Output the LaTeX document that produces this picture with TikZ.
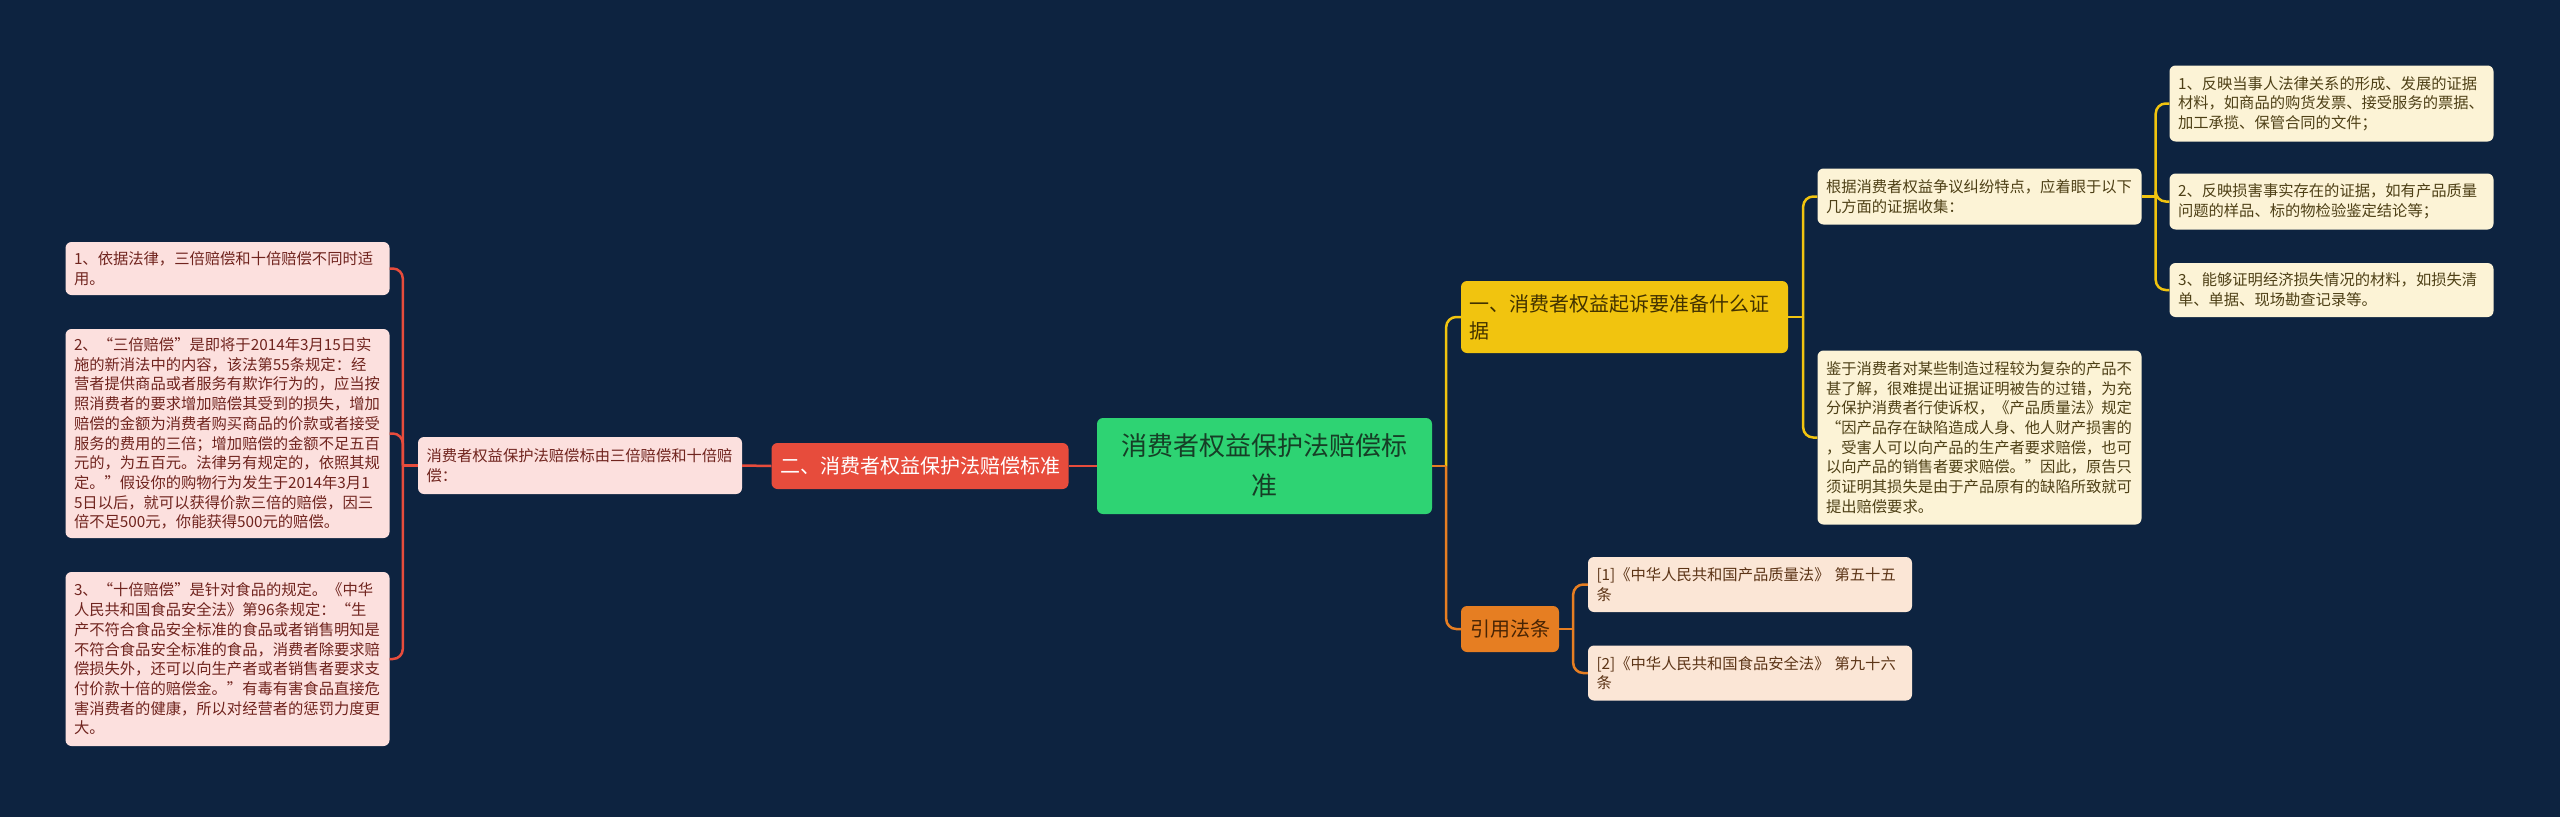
\documentclass[tikz,border=0pt]{standalone}
\usepackage{fontspec}
\setmainfont{Noto Sans CJK SC}
\usetikzlibrary{calc}
\definecolor{bgc}{RGB}{13,35,64}
\definecolor{greenc}{RGB}{46,211,115}
\definecolor{greentx}{RGB}{22,62,38}
\definecolor{redc}{RGB}{231,76,60}
\definecolor{pinkc}{RGB}{252,224,222}
\definecolor{pinktx}{RGB}{112,36,30}
\definecolor{yelc}{RGB}{241,196,15}
\definecolor{yeltx}{RGB}{66,50,0}
\definecolor{lyelc}{RGB}{252,243,214}
\definecolor{lyeltx}{RGB}{78,64,22}
\definecolor{orac}{RGB}{230,126,34}
\definecolor{oratx}{RGB}{72,36,4}
\definecolor{citec}{RGB}{251,230,214}
\definecolor{citetx}{RGB}{92,52,22}
\tikzset{
  box/.style={rounded corners=6pt, inner xsep=8.5pt, inner ysep=0pt, anchor=center},
  pinkleaf/.style={box, fill=pinkc, text=pinktx, align=left, text width=307pt,
     font=\fontsize{15.3}{19.7}\selectfont},
  yleaf/.style={box, fill=lyelc, text=lyeltx, align=left, text width=307pt,
     font=\fontsize{15.3}{19.7}\selectfont},
  cleaf/.style={box, fill=citec, text=citetx, align=left, text width=307pt,
     font=\fontsize{15.3}{19.7}\selectfont},
  redline/.style={draw=redc, line width=2.5pt},
  yline/.style={draw=yelc, line width=2.5pt},
  oline/.style={draw=orac, line width=2.5pt},
  elbow/.style={rounded corners=10pt}
}
\begin{document}
\begin{tikzpicture}[x=1pt,y=-1pt]
\fill[bgc] (0,0) rectangle (2560,817);
\useasboundingbox (0,0) rectangle (2560,817);

% center
\node[box, fill=greenc, text=greentx, align=center, minimum width=335pt, minimum height=96pt,
  font=\fontsize{26}{40}\selectfont] (C) at (1264.5,466) {消费者权益保护法赔偿标\\准};

% left branch
\node[box, fill=redc, text=white, align=center, minimum width=296pt, minimum height=46pt,
  font=\fontsize{20}{27}\selectfont] (R) at (920,466) {二、消费者权益保护法赔偿标准};
\node[pinkleaf, minimum height=57pt] (P) at (580,465.5)
  {消费者权益保护法赔偿标由三倍赔偿和十倍赔\\偿：};
\node[pinkleaf, minimum height=53pt] (L1) at (227.5,268.5)
  {1、依据法律，三倍赔偿和十倍赔偿不同时适\\用。};
\node[pinkleaf, minimum height=209pt] (L2) at (227.5,433.5)
  {2、“三倍赔偿”是即将于2014年3月15日实\\
   施的新消法中的内容，该法第55条规定：经\\
   营者提供商品或者服务有欺诈行为的，应当按\\
   照消费者的要求增加赔偿其受到的损失，增加\\
   赔偿的金额为消费者购买商品的价款或者接受\\
   服务的费用的三倍；增加赔偿的金额不足五百\\
   元的，为五百元。法律另有规定的，依照其规\\
   定。”假设你的购物行为发生于2014年3月1\\
   5日以后，就可以获得价款三倍的赔偿，因三\\
   倍不足500元，你能获得500元的赔偿。};
\node[pinkleaf, minimum height=174pt] (L3) at (227.5,659)
  {3、“十倍赔偿”是针对食品的规定。《中华\\
   人民共和国食品安全法》第96条规定：“生\\
   产不符合食品安全标准的食品或者销售明知是\\
   不符合食品安全标准的食品，消费者除要求赔\\
   偿损失外，还可以向生产者或者销售者要求支\\
   付价款十倍的赔偿金。”有毒有害食品直接危\\
   害消费者的健康，所以对经营者的惩罚力度更\\
   大。};

% right branch
\node[box, fill=yelc, text=yeltx, align=left, text width=310pt, minimum height=72pt,
  font=\fontsize{20}{27}\selectfont] (Y) at (1624.5,317) {一、消费者权益起诉要准备什么证\\据};
\node[box, fill=orac, text=oratx, align=center, minimum width=98pt, minimum height=46pt,
  font=\fontsize{20}{27}\selectfont] (O) at (1510,629) {引用法条};

\node[yleaf, minimum height=56pt] (G) at (1979.5,196.5)
  {根据消费者权益争议纠纷特点，应着眼于以下\\几方面的证据收集：};
\node[yleaf, minimum height=174pt] (J) at (1979.5,437.5)
  {鉴于消费者对某些制造过程较为复杂的产品不\\
   甚了解，很难提出证据证明被告的过错，为充\\
   分保护消费者行使诉权，《产品质量法》规定\\
   “因产品存在缺陷造成人身、他人财产损害的\\
   ，受害人可以向产品的生产者要求赔偿，也可\\
   以向产品的销售者要求赔偿。”因此，原告只\\
   须证明其损失是由于产品原有的缺陷所致就可\\
   提出赔偿要求。};
\node[yleaf, minimum height=76pt] (RL1) at (2331.5,103.5)
  {1、反映当事人法律关系的形成、发展的证据\\材料，如商品的购货发票、接受服务的票据、\\加工承揽、保管合同的文件；};
\node[yleaf, minimum height=56pt] (RL2) at (2331.5,201.5)
  {2、反映损害事实存在的证据，如有产品质量\\问题的样品、标的物检验鉴定结论等；};
\node[yleaf, minimum height=54pt] (RL3) at (2331.5,290)
  {3、能够证明经济损失情况的材料，如损失清\\单、单据、现场勘查记录等。};

\node[cleaf, minimum height=55pt] (K1) at (1750,584.5)
  {[1]《中华人民共和国产品质量法》~第五十五\\条};
\node[cleaf, minimum height=55pt] (K2) at (1750,673)
  {[2]《中华人民共和国食品安全法》~第九十六\\条};

% connectors
\draw[redline] (C.west) -- (R.east);
\draw[redline] (R.west) -- (P.east);
\coordinate (jl) at ($(P.west)+(-15,0)$);
\draw[redline] (P.west) -- (jl);
\draw[redline, elbow] (jl) |- (L1.east);
\draw[redline, elbow] (jl) |- (L2.east);
\draw[redline, elbow] (jl) |- (L3.east);

\coordinate (jc) at ($(C.east)+(14,0)$);
\draw[yline, elbow] (jc) |- (Y.west);
\draw[oline, elbow] (jc) |- (O.west);
\draw[oline] (C.east) -- (jc);

\coordinate (jy) at ($(Y.east)+(15,0)$);
\draw[yline] (Y.east) -- (jy);
\draw[yline, elbow] (jy) |- (G.west);
\draw[yline, elbow] (jy) |- (J.west);

\coordinate (jg) at ($(G.east)+(14,0)$);
\draw[yline] (G.east) -- (jg);
\draw[yline, elbow] (jg) |- (RL1.west);
\draw[yline, elbow] (jg) |- (RL2.west);
\draw[yline, elbow] (jg) |- (RL3.west);

\coordinate (jo) at ($(O.east)+(14,0)$);
\draw[oline] (O.east) -- (jo);
\draw[oline, elbow] (jo) |- (K1.west);
\draw[oline, elbow] (jo) |- (K2.west);
\end{tikzpicture}
\end{document}
